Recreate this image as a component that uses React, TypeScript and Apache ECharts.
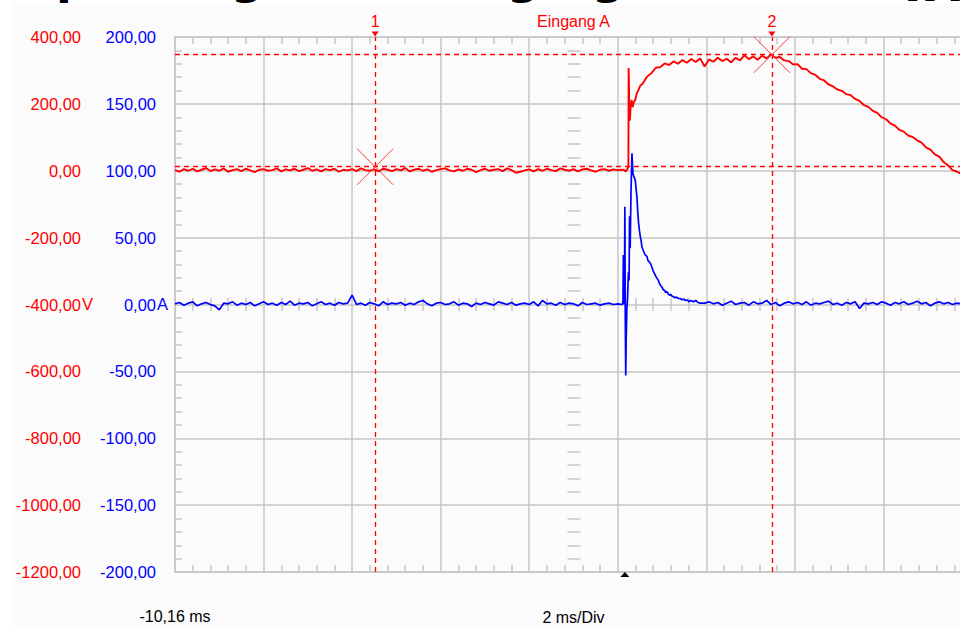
import React, { useEffect, useRef } from "react";
import * as echarts from "echarts";

// ---- screen / axes ----
const TIME_ORIGIN_MS = -10.16; // time at the left edge of the screen
const MS_PER_DIV = 2;
const TIME_DIVS = 9;
const voltAxis = { min: -1200, max: 400, step: 200 };
const ampAxis = { min: -200, max: 200, step: 50 };
const channelTitle = "Eingang A";
const timebaseText = "2 ms/Div";
const voltUnit = "V";
const ampUnit = "A";

// ---- channel A (red, volts) ----
const redBaseStart = -10.16;
const redBaseStep = 0.1;
const redBase = [
  2, -3, 5, 0, 6, -2, 3, 8, -1, 4,
  0, 7, -3, 2, 5, -1, 6, 1, -4, 3,
  5, 0, 2, 7, -2, 4, 1, 6, -1, 3,
  8, 0, 4, -2, 5, 2, 6, -3, 3, 1,
  5, -1, 7, 2, 0, 4, -2, 6, 3, -1,
  5, 1, 8, -2, 3, 6, 0, 4, -3, 2,
  5, 7, 1, -2, 4, 0, 6, 3, -4, 2,
  6, 0, 3, 5, -1, 7, 2, -6, -3, 1,
  4, -2, 5, 0, 6, 2, -1, 7, 3, 0,
  5, -2, 4, 6, 1, -3, 3, 5, 0, 4,
  2, 3,
];
const redEvent: [number, number][] = [
  [-0.03, 3], [0.02, -2], [0.06, 6], [0.08, 12], [0.085, 307], [0.093, 260],
  [0.1, 150], [0.115, 155], [0.13, 192], [0.15, 212], [0.175, 190], [0.2, 205],
  [0.235, 212], [0.27, 232], [0.31, 242], [0.35, 255],
];
const redTailStart = 0.4;
const redTailStep = 0.1;
const redTail = [
  260, 281, 292, 308, 310, 321, 316, 327, 320, 331,
  323, 334, 325, 336, 312, 333, 326, 338, 328, 335,
  324, 338, 330, 345, 334, 342, 332, 344, 336, 348,
  338, 340, 330, 328, 318, 319, 305, 304, 292, 287,
  275, 270, 258, 252, 243, 239, 229, 226, 215, 209,
  196, 191, 179, 173, 160, 154, 141, 135, 122, 117,
  105, 101, 91, 84, 70, 63, 49, 42, 26, 16,
  2, -3, -9,
];

// ---- channel B (blue, amps) ----
const blueBaseStart = -10.16;
const blueBaseStep = 0.1;
const blueBase = [
  0.5, 1.5, -0.5, 1, 2, -1, 0.5, 1.5, 0, -1,
  -4, 1, 0.5, 2, -0.5, 1, 0, 1.5, -1, 0.5,
  2, 0, 1, -0.5, 1.5, 0, 2.5, -0.5, 1, 0.5,
  1.5, -1, 0.5, 2, 0, 1, -0.5, 1.5, 0.5, 1,
  7, 0, 1, -0.5, 1.5, 0.5, -1, 2, 0, 1,
  0.5, 1.5, -0.5, 1, 0, 2, 3, 0.5, -1, 1,
  1.5, 0, 0.5, 2, -0.5, 1, 0.5, -1.5, 1, 0,
  1.5, 0.5, -0.5, 2, 1, 0, 1.5, -0.5, 0.5, 1,
  0, 2, -1, 3, 0.5, 1, -0.5, 1.5, 0, 1,
  0.5, -1, 1.5, 0, 0.5, 1, -0.5, 0.5, 1, 0,
  0.5, 0,
];
const blueEvent: [number, number][] = [
  [-0.05, 0.5], [-0.043, 3], [-0.033, 37], [-0.026, 2], [-0.018, 18], [-0.01, 0],
  [0.0, 73], [0.01, -12], [0.02, -53], [0.03, -26], [0.045, -3], [0.06, 4],
  [0.08, 24], [0.095, 18], [0.106, 66], [0.12, 42], [0.138, 83], [0.16, 113],
  [0.183, 98], [0.21, 95], [0.235, 93], [0.255, 86], [0.273, 80], [0.29, 70],
  [0.31, 61], [0.33, 55], [0.348, 51], [0.37, 47], [0.386, 43], [0.42, 40],
  [0.46, 37], [0.5, 36], [0.52, 33], [0.574, 31], [0.61, 28], [0.64, 25],
  [0.67, 23], [0.7, 21], [0.755, 18], [0.78, 16], [0.81, 14], [0.84, 13],
  [0.868, 11], [0.9, 10.5], [0.92, 9], [0.95, 9.5], [0.98, 8], [1.01, 7],
  [1.04, 7.5], [1.07, 6], [1.094, 6], [1.13, 5], [1.17, 5.5], [1.21, 4.5],
  [1.25, 4.5], [1.29, 3.5], [1.33, 4], [1.37, 3], [1.41, 3.4], [1.45, 2],
  [1.48, 3], [1.52, 2.5], [1.55, 2], [1.6, 3], [1.65, 1.5], [1.7, 1],
];
const blueTailStart = 1.8;
const blueTailStep = 0.1;
const blueTail = [
  1, 2, 0.5, 1.5, -0.5, 1, 2.5, 0, 1, 1.5,
  -0.5, 2, 0.5, 1, 3, 0, 1.5, -1, 1, 2,
  0.5, 1.5, 0, 2, -0.5, 1, 0.5, 1.5, 2.5, 0,
  1, -0.5, 1.5, 0.5, 2, -3, 1, 0.5, 1.5, 0,
  2, 1, -0.5, 1.5, 0.5, 2, 0, 1, 2.5, 0.5,
  1.5, -1, 1, 2, 0.5, 1.5, 0, 1, 0.5,
];

// ---- cursors / trigger ----
const cursorLabels = ["1", "2"];
const cursorTimes = [-5.64, 3.32];
const cursorVolts = [12, 347];
const triggerTime = 0;

// ---- styling ----
const FONT = "'Liberation Sans', Arial, sans-serif";
const RED = "#ff0000";
const BLUE = "#0000ff";
const GRIDC = "#c6c6c6";

const toX = (t: number) => Math.round((t - TIME_ORIGIN_MS) * 10000) / 10000;
const sampled = (start: number, step: number, vals: number[]) =>
  vals.map((v, i) => [toX(start + i * step), v]);
const fmt = (v: number) => v.toFixed(2).replace(".", ",");

const redData = [
  ...sampled(redBaseStart, redBaseStep, redBase),
  ...redEvent.map(([t, v]) => [toX(t), v]),
  ...sampled(redTailStart, redTailStep, redTail),
];
const blueData = [
  ...sampled(blueBaseStart, blueBaseStep, blueBase),
  ...blueEvent.map(([t, v]) => [toX(t), v]),
  ...sampled(blueTailStart, blueTailStep, blueTail),
];

const X_MAX = TIME_DIVS * MS_PER_DIV;
const gridLine = { color: GRIDC, width: 1.5 };
const GRID = { left: 175, top: 37, width: 797, height: 535 };

function buildOption(): any {
  const hidden = { show: false };
  const txt = (text: string, x: number, y: number, fill: string, font: string, align = "left") => ({
    type: "text", x, y, z: 10,
    style: { text, fill, font, textAlign: align, textVerticalAlign: "middle", align, verticalAlign: "middle" },
  });
  return {
    animation: false,
    backgroundColor: "transparent",
    grid: { ...GRID, containLabel: false, outerBoundsMode: "none" },
    xAxis: [
      {
        type: "value", min: 0, max: X_MAX, interval: MS_PER_DIV, position: "bottom",
        axisLine: { show: true, onZero: false, lineStyle: gridLine },
        axisTick: { show: false, inside: true },
        minorTick: { show: true, splitNumber: 5, length: 7, lineStyle: gridLine },
        splitLine: { show: true, lineStyle: gridLine },
        minorSplitLine: hidden,
        axisLabel: {
          show: true, margin: 36, color: "#000", fontSize: 16, fontFamily: FONT,
          formatter: (v: number) => (v === 0 ? `${fmt(TIME_ORIGIN_MS)} ms` : ""),
        },
      },
      {
        type: "value", min: 0, max: X_MAX, interval: MS_PER_DIV, position: "top",
        axisLine: { show: true, onZero: false, lineStyle: gridLine },
        axisTick: { show: false, inside: true },
        minorTick: { show: true, splitNumber: 5, length: 7, lineStyle: gridLine },
        splitLine: hidden, axisLabel: hidden,
      },
      {
        type: "value", min: 0, max: X_MAX, interval: MS_PER_DIV, position: "bottom", offset: -274,
        axisLine: { show: false, onZero: false },
        axisTick: { show: false, inside: false },
        minorTick: { show: true, splitNumber: 5, length: 13, lineStyle: gridLine },
        splitLine: hidden, axisLabel: hidden,
      },
    ],
    yAxis: [
      {
        type: "value", min: ampAxis.min, max: ampAxis.max, interval: ampAxis.step, position: "left",
        axisLine: { show: true, onZero: false, lineStyle: gridLine },
        axisTick: { show: false, inside: true },
        minorTick: { show: true, splitNumber: 5, length: 7, lineStyle: gridLine },
        splitLine: { show: true, lineStyle: gridLine },
        axisLabel: { color: BLUE, margin: 19, fontSize: 16.5, fontFamily: FONT, formatter: fmt },
      },
      {
        type: "value", min: voltAxis.min, max: voltAxis.max, interval: voltAxis.step, position: "left",
        axisLine: { show: false, onZero: false },
        axisTick: hidden, splitLine: hidden,
        axisLabel: { color: RED, margin: 94, fontSize: 16.5, fontFamily: FONT, formatter: fmt },
      },
      {
        type: "value", min: ampAxis.min, max: ampAxis.max, interval: ampAxis.step, position: "left", offset: -405.5,
        axisLine: { show: false, onZero: false },
        axisTick: { show: false, inside: false },
        minorTick: { show: true, splitNumber: 5, length: 13, lineStyle: gridLine },
        splitLine: hidden, axisLabel: hidden,
      },
    ],
    series: [
      {
        type: "line", name: "A", xAxisIndex: 0, yAxisIndex: 1, data: redData,
        showSymbol: false, symbol: "none", z: 3,
        lineStyle: { color: RED, width: 1.9 }, itemStyle: { color: RED },
        markLine: {
          silent: true, symbol: ["none", "none"], label: { show: false },
          lineStyle: { color: RED, type: [5, 4], width: 1.3 },
          data: [
            ...cursorTimes.map((t) => ({ xAxis: toX(t) })),
            ...cursorVolts.map((v) => ({ yAxis: v })),
          ],
        },
        markPoint: {
          silent: true,
          data: [
            ...cursorTimes.map((t, i) => ({
              coord: [toX(t), cursorVolts[i]],
              symbol: "path://M0 0L10 10M10 0L0 10",
              symbolSize: 36,
              itemStyle: { color: "transparent", borderColor: "#ff3a3a", borderWidth: 1 },
              label: { show: false },
            })),
            ...cursorTimes.map((t, i) => ({
              coord: [toX(t), voltAxis.max],
              symbol: "triangle", symbolSize: [7, 5], symbolRotate: 180, symbolOffset: [0, -3],
              itemStyle: { color: RED, borderWidth: 0 },
              label: {
                show: true, formatter: cursorLabels[i], position: "top", distance: 2,
                color: RED, fontSize: 16, fontFamily: FONT,
              },
            })),
          ],
        },
      },
      {
        type: "line", name: "B", xAxisIndex: 0, yAxisIndex: 0, data: blueData,
        showSymbol: false, symbol: "none", z: 4,
        lineStyle: { color: BLUE, width: 1.7 }, itemStyle: { color: BLUE },
        markPoint: {
          silent: true,
          data: [
            {
              coord: [toX(triggerTime), ampAxis.min],
              symbol: "triangle", symbolSize: [9, 5], symbolOffset: [0, 2.5],
              itemStyle: { color: "#000", borderWidth: 0 }, label: { show: false },
            },
          ],
        },
      },
    ],
    graphic: [
      txt(channelTitle, GRID.left + GRID.width / 2, 21, RED, `16px ${FONT}`, "center"),
      txt(timebaseText, GRID.left + GRID.width / 2, 617, "#000", `16px ${FONT}`, "center"),
      txt(voltUnit, 82, 304, RED, `16.5px ${FONT}`),
      txt(ampUnit, 157, 304, BLUE, `16.5px ${FONT}`),
      // bottoms of a cropped page heading above the screenshot
      ...[
        { s: "p", x: 56, y: -23 },
        { s: "g", x: 231, y: -23 },
        { s: "g", x: 507, y: -23 },
        { s: "g", x: 592, y: -23 },
        { s: "ww", x: 900, y: -15 },
      ].map((g) => txt(g.s, g.x, g.y, "#000", `bold 46px 'DejaVu Sans', sans-serif`)),
    ],
  };
}

export default function App() {
  const ref = useRef<HTMLDivElement>(null);
  useEffect(() => {
    if (!ref.current) return;
    const chart = echarts.init(ref.current, null, { renderer: "svg" });
    chart.setOption(buildOption());
    return () => chart.dispose();
  }, []);
  return (
    <div style={{ position: "absolute", left: 0, top: 0, width: 960, height: 627, background: "#ffffff", overflow: "hidden" }}>
      <div style={{ position: "absolute", left: 13, top: 4, right: 0, bottom: 0, background: "#fbfbfb" }} />
      <div ref={ref} style={{ position: "absolute", left: 0, top: 0, width: 960, height: 627 }} />
    </div>
  );
}
